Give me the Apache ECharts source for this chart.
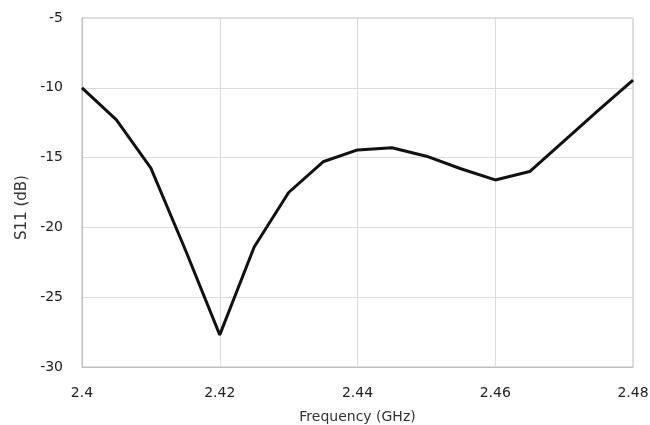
<!DOCTYPE html>
<html><head><meta charset="utf-8">
<script src="https://cdn.jsdelivr.net/npm/echarts@6/dist/echarts.min.js"></script>
<style>html,body{margin:0;padding:0;background:#fff}#c{width:650px;height:425px}</style>
</head><body><div id="c"></div>
<script>
const freq = [2.400,2.405,2.410,2.415,2.420,2.425,2.430,2.435,2.440,2.445,2.450,2.455,2.460,2.465,2.470,2.475,2.480];
const s11 = [-10.0,-12.3,-15.75,-21.6,-27.7,-21.4,-17.5,-15.3,-14.45,-14.3,-14.9,-15.8,-16.6,-16.0,-13.8,-11.6,-9.45];
const chart = echarts.init(document.getElementById('c'));
const font = 'DejaVu Sans, sans-serif';
chart.setOption({
  animation:false,
  grid:{left:82,right:17,top:18,bottom:58,show:true,borderColor:'#bfbfbf',borderWidth:1,outerBoundsMode:'none',containLabel:false},
  xAxis:{type:'value',min:2.4,max:2.48,interval:0.02,
    name:'Frequency (GHz)',nameLocation:'middle',nameGap:43,
    nameTextStyle:{color:'#333',fontSize:14,fontFamily:font},
    axisLine:{lineStyle:{color:'#bfbfbf'}},axisTick:{show:false},
    axisLabel:{color:'#222',fontSize:14,fontFamily:font,margin:19,formatter:v=>String(+v.toFixed(3))},
    splitLine:{lineStyle:{color:'#dcdcdc'}}},
  yAxis:{type:'value',min:-30,max:-5,interval:5,
    name:'S11 (dB)',nameLocation:'middle',nameGap:52,nameRotate:90,
    nameTextStyle:{color:'#333',fontSize:15,fontFamily:font,padding:[0,30,0,0]},
    axisLine:{show:true,lineStyle:{color:'#bfbfbf'}},axisTick:{show:false},
    axisLabel:{color:'#222',fontSize:14,fontFamily:font,margin:19},
    splitLine:{lineStyle:{color:'#dcdcdc'}}},
  series:[{type:'line',data:freq.map((f,i)=>[f,s11[i]]),showSymbol:false,
    lineStyle:{color:'#111',width:3},itemStyle:{color:'#111'}}]
});
</script></body></html>
